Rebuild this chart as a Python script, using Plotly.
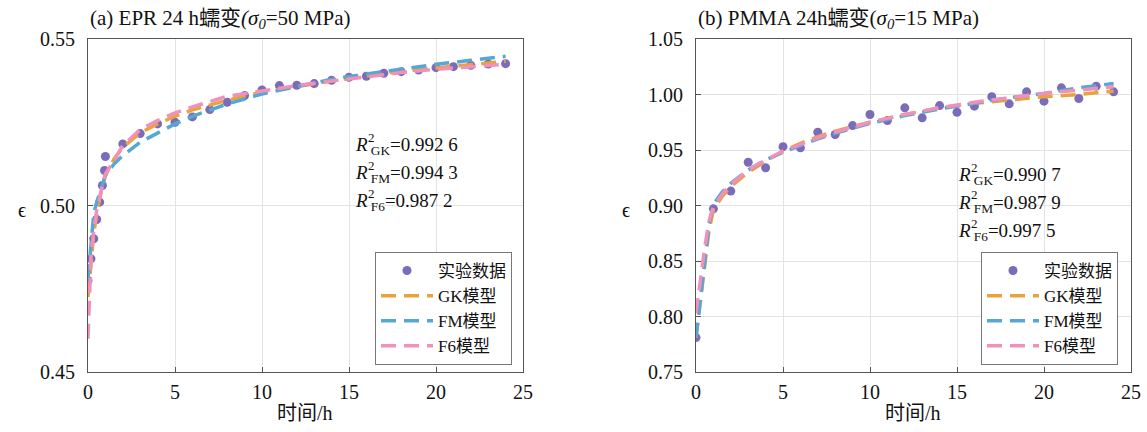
import plotly.graph_objects as go

# ---------------- data ----------------
# (a) EPR, 24 h creep at 50 MPa
epr_t = [0, 0.17, 0.33, 0.5, 0.67, 0.83, 0.95, 1, 2, 3, 4, 5, 6, 7, 8, 9, 10,
         11, 12, 13, 14, 15, 16, 17, 18, 19, 20, 21, 22, 23, 24]
epr_exp = [0.4775, 0.4840, 0.4900, 0.4958, 0.5010, 0.5060, 0.5105, 0.5147,
           0.5185, 0.5216, 0.5245, 0.5250, 0.5266, 0.5288, 0.5310, 0.5330,
           0.5347, 0.5360, 0.5361, 0.5366, 0.5376, 0.5385, 0.5388, 0.5397,
           0.5402, 0.5407, 0.5414, 0.5417, 0.5421, 0.5425, 0.5426]

epr_fit_t = [0, 0.17, 0.33, 0.5, 0.67, 0.83, 1, 1.5, 2, 3, 4, 5, 6, 8, 10,
             12, 14, 16, 18, 20, 22, 24]
epr_gk = [0.4725, 0.4840, 0.4915, 0.4975, 0.5025, 0.5060, 0.5090, 0.5140,
          0.5175, 0.5218, 0.5245, 0.5268, 0.5287, 0.5316, 0.5340, 0.5358,
          0.5374, 0.5389, 0.5403, 0.5413, 0.5424, 0.5433]
epr_fm = [0.4780, 0.4890, 0.4975, 0.5010, 0.5035, 0.5060, 0.5090, 0.5125,
          0.5150, 0.5190, 0.5218, 0.5245, 0.5268, 0.5305, 0.5335, 0.5358,
          0.5379, 0.5395, 0.5410, 0.5424, 0.5436, 0.5448]
epr_f6 = [0.4600, 0.4845, 0.4925, 0.4985, 0.5025, 0.5065, 0.5095, 0.5135,
          0.5180, 0.5228, 0.5255, 0.5278, 0.5296, 0.5328, 0.5345, 0.5360,
          0.5374, 0.5387, 0.5399, 0.5409, 0.5417, 0.5424]
epr_r2 = ["0.992 6", "0.994 3", "0.987 2"]

# (b) PMMA, 24 h creep at 15 MPa
pmma_t = list(range(25))
pmma_exp = [0.781, 0.897, 0.913, 0.939, 0.934, 0.953, 0.952, 0.966, 0.964,
            0.972, 0.982, 0.9765, 0.988, 0.979, 0.990, 0.984, 0.9895, 0.998,
            0.9916, 1.0024, 0.994, 1.006, 0.9964, 1.0075, 1.0024]

pmma_fit_t = [0, 0.25, 0.5, 0.75, 1, 1.5, 2, 3, 4, 5, 6, 7, 8, 10, 12, 14,
              16, 18, 20, 22, 24]
pmma_gk = [0.781, 0.812, 0.848, 0.878, 0.896, 0.908, 0.917, 0.930, 0.940,
           0.949, 0.956, 0.962, 0.967, 0.975, 0.982, 0.988, 0.992, 0.995,
           0.998, 1.000, 1.003]
pmma_fm = [0.781, 0.815, 0.851, 0.883, 0.901, 0.912, 0.920, 0.932, 0.941,
           0.948, 0.954, 0.960, 0.965, 0.974, 0.981, 0.987, 0.992, 0.997,
           1.001, 1.006, 1.010]
pmma_f6 = [0.803, 0.834, 0.862, 0.886, 0.899, 0.910, 0.919, 0.932, 0.941,
           0.949, 0.955, 0.961, 0.966, 0.975, 0.982, 0.988, 0.993, 0.997,
           1.001, 1.004, 1.007]
pmma_r2 = ["0.990 7", "0.987 9", "0.997 5"]

model_names = ["GK模型", "FM模型", "F6模型"]
model_tags = ["GK", "FM", "F6"]
exp_name = "实验数据"

# ---------------- styling ----------------
W, H = 1147, 432
FONT = "Times New Roman, Liberation Serif, Noto Sans CJK SC, serif"
C_EXP = "#7B6CBA"
C_MODEL = ["#E8A33C", "#57A7D3", "#F290BA"]
DASH = "15px,8px"
LW = 3.5
INK = "#111111"


def px(x):
    return x / W


def py(y):
    return 1 - y / H


fig = go.Figure()

panels = [
    dict(xa="x", ya="y", legend="legend", t=epr_t, exp=epr_exp,
         fit_t=epr_fit_t, fits=[epr_gk, epr_fm, epr_f6]),
    dict(xa="x2", ya="y2", legend="legend2", t=pmma_t, exp=pmma_exp,
         fit_t=pmma_fit_t, fits=[pmma_gk, pmma_fm, pmma_f6]),
]

for p in panels:
    fig.add_trace(go.Scatter(
        x=p["t"], y=p["exp"], mode="markers", name=exp_name,
        marker=dict(color=C_EXP, size=9),
        xaxis=p["xa"], yaxis=p["ya"], legend=p["legend"]))
    for name, vals, col in zip(model_names, p["fits"], C_MODEL):
        fig.add_trace(go.Scatter(
            x=p["fit_t"], y=vals, mode="lines", name=name,
            line=dict(color=col, width=LW, dash=DASH),
            xaxis=p["xa"], yaxis=p["ya"], legend=p["legend"]))

axis_common = dict(
    showline=True, mirror=True, linecolor="#555555", linewidth=1,
    ticks="inside", ticklen=5, tickcolor="#555555",
    showgrid=True, gridcolor="#E3E3E3", gridwidth=1, zeroline=False,
    tickfont=dict(family=FONT, size=20, color=INK),
    automargin=False,
)

left_dom = [px(88), px(523)]
right_dom = [px(696), px(1131)]
y_dom = [py(372), py(39)]

legend_common = dict(xanchor="right", yanchor="bottom",
                     bgcolor="white", bordercolor="#777777", borderwidth=1,
                     font=dict(family=FONT, size=17, color=INK),
                     tracegroupgap=0, itemwidth=52)

fig.update_layout(
    width=W, height=H,
    margin=dict(l=0, r=0, t=0, b=0),
    paper_bgcolor="white", plot_bgcolor="white",
    font=dict(family=FONT, size=19, color=INK),
    xaxis=dict(domain=left_dom, range=[0, 25], tickvals=[0, 5, 10, 15, 20, 25],
               anchor="y", ticklabelstandoff=2, **axis_common),
    yaxis=dict(domain=y_dom, range=[0.45, 0.55], tickvals=[0.45, 0.50, 0.55],
               tickformat=".2f", anchor="x", ticklabelstandoff=8,
               **axis_common),
    xaxis2=dict(domain=right_dom, range=[0, 25],
                tickvals=[0, 5, 10, 15, 20, 25], anchor="y2",
                ticklabelstandoff=2, **axis_common),
    yaxis2=dict(domain=y_dom, range=[0.75, 1.05],
                tickvals=[0.75, 0.80, 0.85, 0.90, 0.95, 1.00, 1.05],
                tickformat=".2f", anchor="x2", ticklabelstandoff=8,
                **axis_common),
    legend=dict(x=px(512), y=py(365), **legend_common),
    legend2=dict(x=px(1118), y=py(365), **legend_common),
)

annotations = []

# panel titles
titles = [
    ("(a) EPR 24 h蠕变<i>(σ<sub>0</sub></i>=50 MPa)", 88),
    ("(b) PMMA 24h蠕变(<i>σ<sub>0</sub></i>=15 MPa)", 696),
]
for txt, x0 in titles:
    annotations.append(dict(text=txt, x=px(x0), y=py(19), xref="paper",
                            yref="paper", xanchor="left", yanchor="middle",
                            showarrow=False,
                            font=dict(family=FONT, size=21, color=INK)))

# axis titles
for xc, yl_x in [(305, 22), (913, 626)]:
    annotations.append(dict(text="时间/h", x=px(xc), y=py(413), xref="paper",
                            yref="paper", xanchor="center", yanchor="middle",
                            showarrow=False,
                            font=dict(family=FONT, size=20, color=INK)))
    annotations.append(dict(text="ϵ", x=px(yl_x), y=py(210), xref="paper",
                            yref="paper", xanchor="center", yanchor="middle",
                            showarrow=False,
                            font=dict(family=FONT, size=20, color=INK)))

# goodness-of-fit labels
for r2_vals, x0, rows in [(epr_r2, 353, [146, 174, 202]),
                          (pmma_r2, 956, [176, 204, 232])]:
    for tag, val, yc in zip(model_tags, r2_vals, rows):
        annotations.append(dict(
            text=f"<i>R</i><span style='font-size:13px'> </span>"
                 f"<sub>{tag}</sub>={val}",
            x=px(x0), y=py(yc), xref="paper", yref="paper",
            xanchor="left", yanchor="middle", showarrow=False,
            font=dict(family=FONT, size=19, color=INK)))
        annotations.append(dict(
            text="2", x=px(x0 + 13), y=py(yc - 9), xref="paper", yref="paper",
            xanchor="left", yanchor="middle", showarrow=False,
            font=dict(family=FONT, size=13, color=INK)))

fig.update_layout(annotations=annotations)

fig.write_html("out.html")
